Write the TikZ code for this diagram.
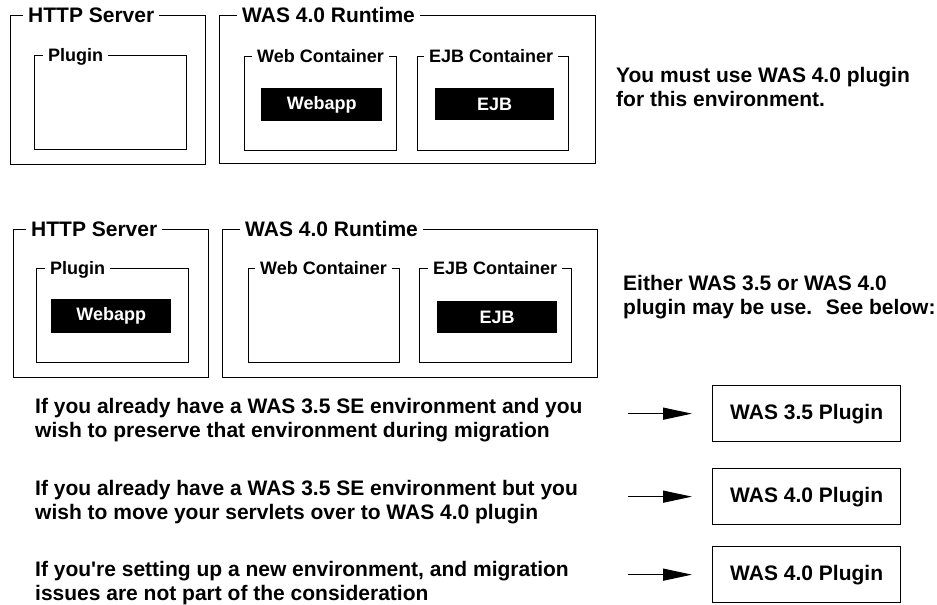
\documentclass[tikz,border=0pt]{standalone}
\usepackage{fontspec}
\setmainfont{Liberation Sans}
\newfontfamily\straightfont{Liberation Sans}
\usetikzlibrary{arrows.meta}
\begin{document}
\begin{tikzpicture}[x=1pt,y=-1pt,
  frame/.style={draw,line width=1.3pt,anchor=north west,inner sep=0pt},
  ttl/.style={fill=white,inner xsep=5pt,inner ysep=0pt,anchor=base west,font=\fontsize{21}{24}\selectfont\bfseries},
  sttl/.style={ttl,font=\fontsize{18}{21}\selectfont\bfseries},
  blk/.style={fill=black,text=white,anchor=north west,inner sep=0pt,font=\fontsize{18}{21}\selectfont\bfseries},
  prose/.style={anchor=base west,align=left,inner sep=0pt,font=\fontsize{21}{24}\selectfont\bfseries},
  pbox/.style={draw,line width=1.3pt,anchor=north west,inner sep=0pt,minimum width=188pt,minimum height=56pt,font=\fontsize{21}{24}\selectfont\bfseries},
  arr/.style={line width=1.3pt,-{Triangle[length=29pt,width=12pt]}}
]
\useasboundingbox (0,0) rectangle (937,605);
% ---- top section
\node[frame,minimum width=195pt,minimum height=149pt] (http1) at (10,15) {};
\node[ttl] (http1t) at (23,22.5) {HTTP Server};
\node[frame,minimum width=152pt,minimum height=94pt] (plug1) at (34,55) {};
\node[sttl] (plug1t) at (43,61.5) {Plugin};
\node[frame,minimum width=376pt,minimum height=148pt] (was1) at (219,15) {};
\node[ttl] (was1t) at (237,22.5) {WAS 4.0 Runtime};
\node[frame,minimum width=152pt,minimum height=94pt] (web1) at (244,56) {};
\node[sttl] (web1t) at (252,62.5) {Web Container};
\node[blk,minimum width=121pt,minimum height=33pt] (webapp1) at (261,88) {Webapp};
\node[frame,minimum width=151pt,minimum height=94pt] (ejbc1) at (417,56) {};
\node[sttl] (ejbc1t) at (424,62.5) {EJB Container};
\node[blk,minimum width=119pt,minimum height=32pt] (ejb1) at (435,88) {EJB};
\node[prose] (txt1) at (616,106) {You must use WAS 4.0 plugin\\for this environment.};
% ---- second section
\node[frame,minimum width=195.5pt,minimum height=148pt] (http2) at (12.5,229) {};
\node[ttl] (http2t) at (26,236.5) {HTTP Server};
\node[frame,minimum width=152pt,minimum height=94pt] (plug2) at (36,268) {};
\node[sttl] (plug2t) at (45,274.5) {Plugin};
\node[blk,minimum width=120pt,minimum height=34pt] (webapp2) at (51,299) {Webapp};
\node[frame,minimum width=375pt,minimum height=148pt] (was2) at (222,229) {};
\node[ttl] (was2t) at (240,236.5) {WAS 4.0 Runtime};
\node[frame,minimum width=151pt,minimum height=94pt] (web2) at (248,268) {};
\node[sttl] (web2t) at (255,274.5) {Web Container};
\node[frame,minimum width=152pt,minimum height=94pt] (ejbc2) at (419,268) {};
\node[sttl] (ejbc2t) at (428,274.5) {EJB Container};
\node[blk,minimum width=120pt,minimum height=32pt] (ejb2) at (437,301) {EJB};
\node[prose] (txt2) at (623,314) {Either WAS 3.5 or WAS 4.0\\plugin may be use.~ See below:};
% ---- bottom section
\node[prose] (t1) at (35,437) {If you already have a WAS 3.5 SE environment and you\\wish to preserve that environment during migration};
\node[prose] (t2) at (35,519) {If you already have a WAS 3.5 SE environment but you\\wish to move your servlets over to WAS 4.0 plugin};
\node[prose] (t3) at (35,600) {If you{\straightfont\bfseries '}re setting up a new environment, and migration\\issues are not part of the consideration};
\node[pbox] (pb1) at (712,385) {WAS 3.5 Plugin};
\node[pbox] (pb2) at (712,468) {WAS 4.0 Plugin};
\node[pbox] (pb3) at (712,546) {WAS 4.0 Plugin};
\draw[arr] ([xshift=-84pt]pb1.west) -- ([xshift=-20pt]pb1.west);
\draw[arr] ([xshift=-84pt]pb2.west) -- ([xshift=-20pt]pb2.west);
\draw[arr] ([xshift=-84pt]pb3.west) -- ([xshift=-20pt]pb3.west);
\end{tikzpicture}
\end{document}
